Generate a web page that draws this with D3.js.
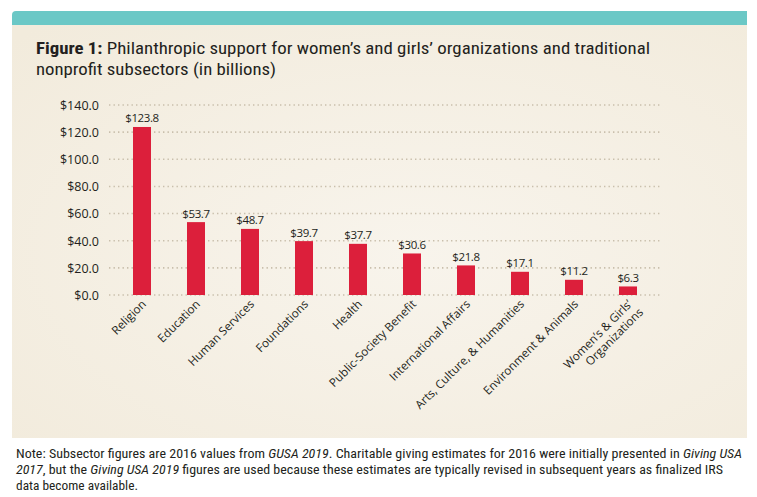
<!DOCTYPE html>
<html><head><meta charset="utf-8">
<script src="https://cdn.jsdelivr.net/npm/d3@7"></script>
<style>body{margin:0;background:#fff} svg{display:block}</style>
</head><body>
<script>
const categories = ["Religion","Education","Human Services","Foundations","Health","Public-Society Benefit","International Affairs","Arts, Culture, & Humanities","Environment & Animals","Women’s & Girls’\nOrganizations"];
const values = [123.8, 53.7, 48.7, 39.7, 37.7, 30.6, 21.8, 17.1, 11.2, 6.3];
const yTicks = [0, 20, 40, 60, 80, 100, 120, 140];
const titleBold = "Figure 1:";
const titleLine1 = " Philanthropic support for women’s and girls’ organizations and traditional";
const titleLine2 = "nonprofit subsectors (in billions)";
const noteLines = [
  [["Note: Subsector figures are 2016 values from ",false],["GUSA 2019",true],[". Charitable giving estimates for 2016 were initially presented in ",false],["Giving USA",true]],
  [["2017",true],[", but the ",false],["Giving USA 2019",true],[" figures are used because these estimates are typically revised in subsequent years as finalized IRS",false]],
  [["data become available.",false]]
];

const W = 757, H = 497;
const svg = d3.select("body").append("svg").attr("width", W).attr("height", H);
const defs = svg.append("defs");
const grad = defs.append("radialGradient").attr("id","bg").attr("cx","55%").attr("cy","55%").attr("r","75%");
grad.append("stop").attr("offset","0%").attr("stop-color","#f8f4ec");
grad.append("stop").attr("offset","100%").attr("stop-color","#f2ebdc");

// panel
svg.append("rect").attr("x",12).attr("y",25).attr("width",735).attr("height",413).attr("fill","url(#bg)");
svg.append("path").attr("d","M12,25 L12,15 Q12,11 16,11 L747,11 L747,25 Z").attr("fill","#6bc8c6");

const condensed = "'Liberation Sans Narrow','Roboto Condensed','Roboto','Liberation Sans',sans-serif";
const sans = "'Open Sans','Lato',sans-serif";

// title
const t1 = svg.append("text").attr("x",36).attr("y",53.5).attr("font-family",condensed)
  .attr("font-size",16).attr("fill","#231f20").attr("textLength",614).attr("lengthAdjust","spacingAndGlyphs");
t1.append("tspan").attr("font-weight","bold").text(titleBold);
t1.append("tspan").text(titleLine1);
svg.append("text").attr("x",36).attr("y",75).attr("font-family",condensed)
  .attr("font-size",16).attr("fill","#231f20").attr("textLength",240).attr("lengthAdjust","spacingAndGlyphs")
  .text(titleLine2);

// scales
const x = d3.scaleBand().domain(categories).range([115,655]).paddingInner(2/3).paddingOuter(1/3);
const y = d3.scaleLinear().domain([0,140]).range([295,105]);

// grid
const grid = svg.append("g");
grid.selectAll("line").data(yTicks).join("line")
  .attr("x1",109).attr("x2",660).attr("y1",d=>y(d)).attr("y2",d=>y(d))
  .attr("stroke","#c9bfac").attr("stroke-width",1.6).attr("stroke-dasharray","1.4,3.1");

// y axis labels
const yAxis = d3.axisLeft(y).tickValues(yTicks).tickSize(0).tickPadding(0).tickFormat(d=>"$"+d3.format(".1f")(d));
const ya = svg.append("g").attr("transform","translate(99,0)").call(yAxis);
ya.select(".domain").remove();
ya.selectAll("text").attr("font-family",sans).attr("font-size",12.5).attr("fill","#231f20").attr("dy","0.35em");

// bars
svg.append("g").selectAll("rect").data(values).join("rect")
  .attr("x",(d,i)=>x(categories[i])).attr("width",x.bandwidth())
  .attr("y",d=>y(d)).attr("height",d=>y(0)-y(d)).attr("fill","#dc1f3b");

// value labels
svg.append("g").selectAll("text").data(values).join("text")
  .attr("x",(d,i)=>x(categories[i])+x.bandwidth()/2).attr("y",d=>y(d)-4.5)
  .attr("text-anchor","middle").attr("font-family",sans).attr("font-size",11.5).attr("fill","#231f20")
  .attr("letter-spacing","-0.4")
  .text(d=>"$"+d3.format(".1f")(d));

// x labels
const xl = svg.append("g").selectAll("g").data(categories).join("g")
  .attr("transform",d=>`translate(${x(d)+x.bandwidth()/2+2},302) rotate(-45)`);
xl.each(function(d){
  const lines = d.split("\n");
  const t = d3.select(this).append("text").attr("text-anchor","end").attr("font-family",sans)
    .attr("font-size",11.7).attr("fill","#231f20");
  lines.forEach((l,i)=>{
    t.append("tspan").attr("x", i===0?0:2).attr("dy", i===0?"0.35em":"1.15em").text(l);
  });
});

// note
const lens = [726, 707, 122];
noteLines.forEach((parts,i)=>{
  const t = svg.append("text").attr("x",16).attr("y",457.5+i*16.2).attr("font-family",condensed)
    .attr("font-size",13).attr("fill","#231f20")
    .attr("textLength",lens[i]).attr("lengthAdjust","spacingAndGlyphs");
  parts.forEach(([s,it])=>{ t.append("tspan").attr("font-style",it?"italic":"normal").text(s); });
});
</script>
</body></html>
